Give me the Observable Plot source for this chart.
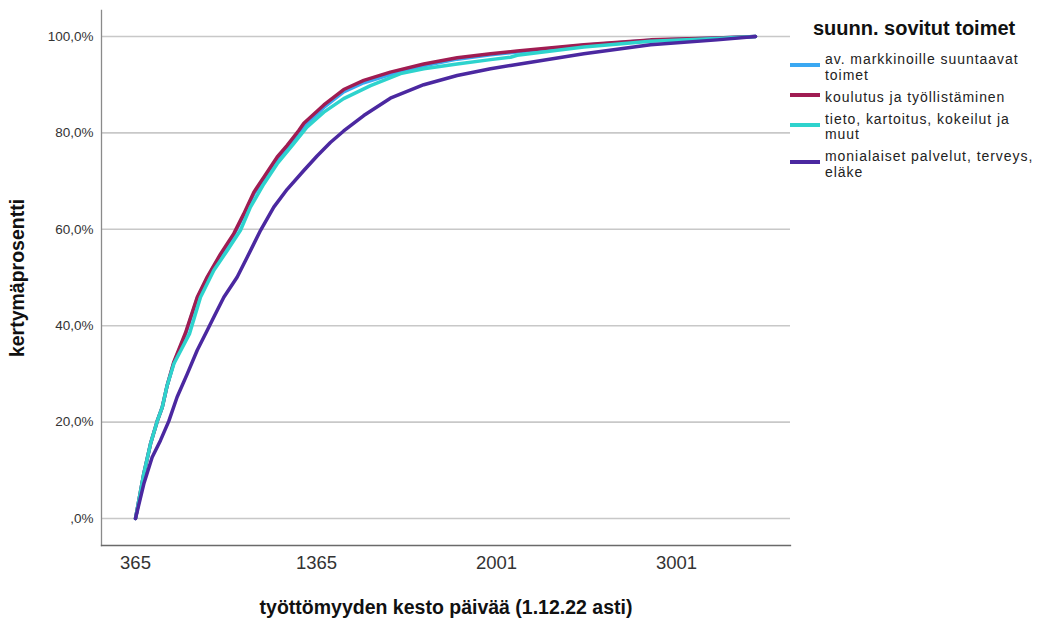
<!DOCTYPE html>
<html><head><meta charset="utf-8">
<script src="https://cdn.jsdelivr.net/npm/d3@7"></script>
<script src="https://cdn.jsdelivr.net/npm/@observablehq/plot@0.6"></script>
<style>
body{margin:0;background:#fff;font-family:"Liberation Sans",Arial,sans-serif;}
#wrap{position:relative;width:1037px;height:618px;overflow:hidden;}
#wrap svg{position:absolute;left:0;top:0;}
g[aria-label="y-axis label"] text, g[aria-label="x-axis label"] text{font-weight:bold;font-size:19.5px;fill:#111;}
g[aria-label="x-axis tick label"] text{font-size:18.5px;fill:#333;}
g[aria-label="y-axis tick label"] text{font-size:13.5px;fill:#333;}
#legend{position:absolute;left:790px;top:17px;color:#222;}
#legend .title{font-weight:bold;font-size:20px;line-height:23px;margin-left:23px;margin-bottom:12px;white-space:nowrap;color:#111;}
#legend .item{display:flex;align-items:center;margin-bottom:6.5px;}
#legend .sw{width:30px;height:4px;margin-right:5px;margin-top:-5px;flex:none;}
#legend .lbl{font-size:14px;line-height:15.5px;letter-spacing:0.95px;white-space:nowrap;}
</style></head><body><div id="wrap"><div id="legend"></div></div>
<script>
const seriesNames = ["av. markkinoille suuntaavat toimet","koulutus ja työllistäminen","tieto, kartoitus, kokeilut ja muut","monialaiset palvelut, terveys, eläke"];
const legendLines = [["av. markkinoille suuntaavat","toimet"],["koulutus ja työllistäminen"],["tieto, kartoitus, kokeilut ja","muut"],["monialaiset palvelut, terveys,","eläke"]];
const seriesColors = ["#3aa8f2","#a01c52","#2ed3cd","#4b28a0"];

const xTicks = [365, 1365, 2001, 3001];
const yTicks = [0, 20, 40, 60, 80, 100];

const avDays  = [365,411,448,485,513,540,577,641,706,761,835,908,963,1019,1074,1148,1203,1267,1295,1391,1461,1532,1626,1744,1862,1980,2116,2486,2857,3227,3440];
const avPct   = [0,9.3,15.5,20.2,23.1,27.6,32.3,38.2,45.7,49.9,54.6,58.8,62.9,67.3,70.4,74.5,76.9,79.9,81.4,85.3,88.5,90.4,92.1,93.9,95.3,96.2,96.8,98.2,99.2,99.7,100];

const kouDays = [365,411,448,485,513,540,577,641,706,761,835,908,963,1019,1074,1148,1203,1267,1295,1391,1461,1532,1626,1744,1862,1980,2116,2486,2857,3227,3440];
const kouPct  = [0,9.3,15.5,20.2,23.1,27.6,32.5,38.5,45.9,50.1,54.9,59.1,63.2,67.7,70.8,75.0,77.4,80.5,82.0,85.8,89.0,90.9,92.6,94.3,95.6,96.4,97.0,98.3,99.3,99.7,100];

const tieDays = [365,411,448,485,513,540,577,663,724,798,872,945,1000,1074,1148,1238,1312,1391,1461,1556,1662,1744,1862,1980,2079,2116,2486,2857,3227,3440];
const tiePct  = [0,9.3,15.5,20.2,23.1,27.6,32.1,38.3,45.9,51.5,55.6,59.8,64.6,69.4,73.6,77.7,81.2,84.3,87.1,89.8,92.3,93.3,94.3,95.2,95.7,96.1,97.8,99.0,99.6,100];

const monDays = [365,411,457,503,549,595,651,706,761,798,853,927,982,1056,1129,1203,1295,1367,1414,1461,1532,1626,1744,1862,1980,2079,2486,2857,3227,3440];
const monPct  = [0,7.2,12.7,16.2,20.2,25.2,30.0,34.9,39.0,41.8,45.9,50.1,54.2,59.8,64.6,68.3,72.2,75.2,78.0,80.4,83.6,87.2,90.0,91.9,93.3,94.0,96.4,98.3,99.3,100];

const seriesDays = [avDays, kouDays, tieDays, monDays];
const seriesPct = [avPct, kouPct, tiePct, monPct];
const data = seriesNames.flatMap((s, i) => seriesDays[i].map((d, j) => ({series: s, day: d, pct: seriesPct[i][j]})));

const fmtY = d => d === 0 ? ",0%" : d.toFixed(1).replace(".", ",") + "%";

const chart = Plot.plot({
  width: 1037, height: 618,
  marginLeft: 101, marginRight: 247, marginTop: 10, marginBottom: 73,
  style: {fontFamily: '"Liberation Sans", Arial, sans-serif', fontSize: "13.5px", background: "#fff", color: "#333"},
  x: {type: "linear", domain: xTicks, range: [135, 316, 496, 676]},
  y: {domain: [0, 100], range: [518, 36]},
  color: {domain: seriesNames, range: seriesColors},
  marks: [
    Plot.gridY(yTicks, {stroke: "#c8c8c8", strokeOpacity: 1, strokeWidth: 1.6}),
    Plot.frame({anchor: "left", stroke: "#8a8a8a", strokeWidth: 1.3}),
    Plot.frame({anchor: "bottom", stroke: "#6a6a6a", strokeWidth: 1.3}),
    Plot.axisY(yTicks, {tickSize: 0, tickPadding: 8, tickFormat: fmtY, label: "kertymäprosentti", labelAnchor: "center", labelOffset: 91, labelArrow: "none"}),
    Plot.axisX(xTicks, {tickSize: 0, tickPadding: 10, tickFormat: d => String(d), label: "työttömyyden kesto päivää (1.12.22 asti)", labelAnchor: "center", labelOffset: 68, labelArrow: "none"}),
    Plot.line(data, {x: "day", y: "pct", z: "series", stroke: "series", strokeWidth: 3.5, curve: "linear"})
  ]
});
document.getElementById("wrap").prepend(chart);

const lg = document.getElementById("legend");
const t = document.createElement("div"); t.className = "title"; t.textContent = "suunn. sovitut toimet"; lg.appendChild(t);
seriesNames.forEach((s, i) => {
  const it = document.createElement("div"); it.className = "item";
  const sw = document.createElement("div"); sw.className = "sw"; sw.style.background = seriesColors[i];
  const lb = document.createElement("div"); lb.className = "lbl"; lb.innerHTML = legendLines[i].join("<br>");
  it.appendChild(sw); it.appendChild(lb); lg.appendChild(it);
});
</script></body></html>
